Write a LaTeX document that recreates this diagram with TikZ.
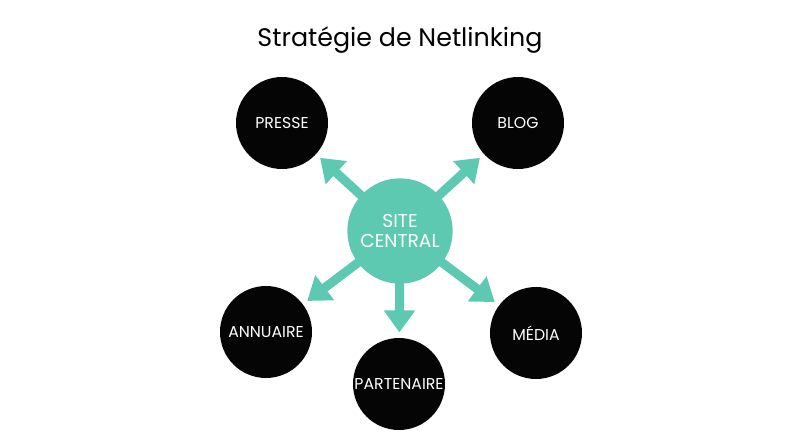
\documentclass[tikz,border=0pt]{standalone}
\usepackage{fontspec}
\setmainfont{Poppins}
\usetikzlibrary{arrows.meta}
\definecolor{sitegreen}{HTML}{5DC9B1}
\definecolor{leafblack}{HTML}{050505}

\begin{document}
\begin{tikzpicture}
  [x=0.75pt,y=-0.75pt,
   leaf/.style={circle,fill=leafblack,text=white,inner sep=0pt,minimum size=69pt,font=\fontsize{11.8}{13}\selectfont},
   hub/.style={circle,fill=sitegreen,text=white,inner sep=0pt,minimum size=79pt,align=center,font=\fontsize{14}{15.5}\selectfont},
   link/.style={draw=sitegreen,line width=6.75pt,shorten <=-6pt,shorten >=4pt,-{Triangle[width=22.5pt,length=16.5pt]}}]
  \useasboundingbox (0,0) rectangle (800,447);
  \node [font=\fontsize{19}{22}\selectfont] (title) at (400,40) {Stratégie de Netlinking};

  \node [hub] (site) at (400,231) {SITE\\CENTRAL};
  \node [leaf] (presse) at (282,123) {PRESSE};
  \node [leaf] (blog) at (518,123) {BLOG};
  \node [leaf] (annuaire) at (266,332) {ANNUAIRE};
  \node [leaf] (media) at (536,333) {MÉDIA};
  \node [leaf] (partenaire) at (399,384) {PARTENAIRE};

  \foreach \to in {presse,blog,annuaire,media,partenaire}
    \draw [link] (site) -- (\to);

\end{tikzpicture}
\end{document}
